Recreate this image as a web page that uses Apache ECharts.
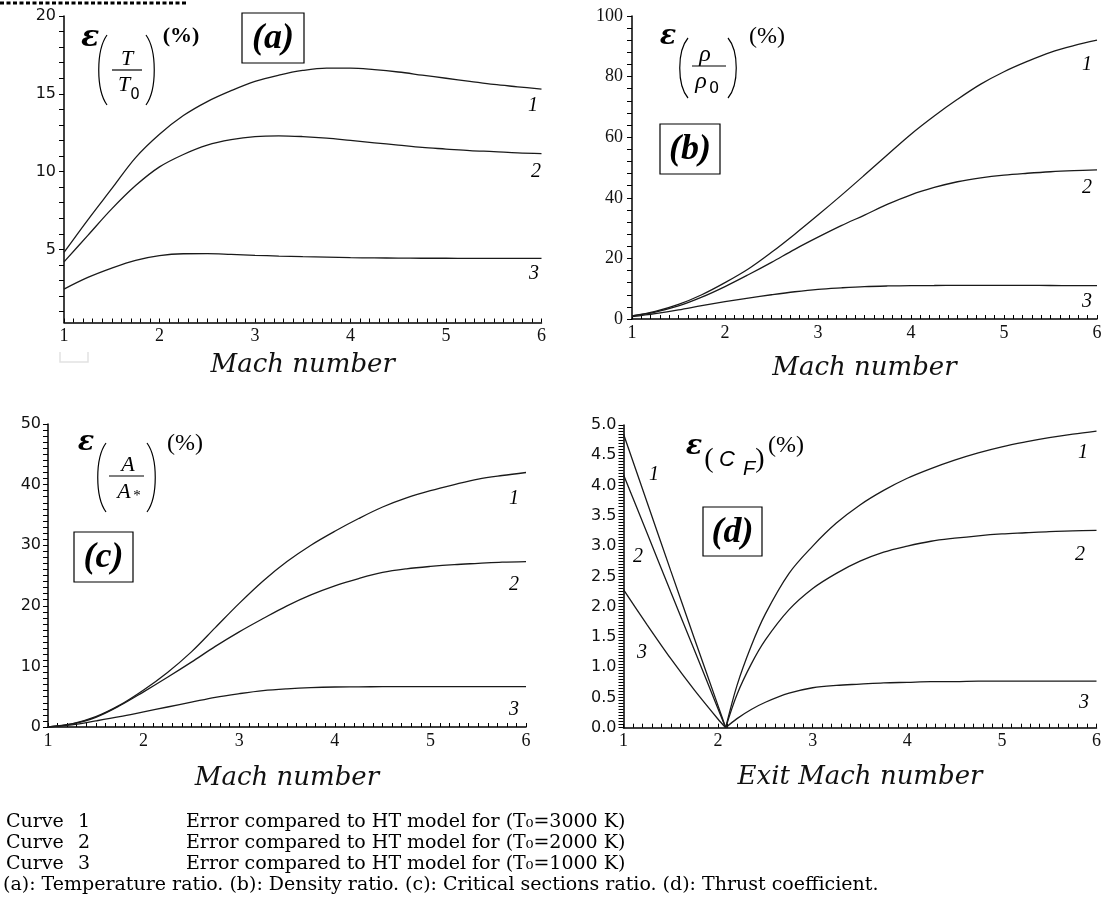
<!DOCTYPE html>
<html><head><meta charset="utf-8">
<script src="https://cdn.jsdelivr.net/npm/echarts@6/dist/echarts.min.js"></script>
<style>html,body{margin:0;padding:0;background:#fff}#chart{width:1107px;height:921px}</style>
</head><body><div id="chart"></div>
<script>
// ---------------- DATA ----------------
const mach = [1,1.25,1.5,1.75,2,2.25,2.5,2.75,3,3.25,3.5,3.75,4,4.25,4.5,4.75,5,5.25,5.5,5.75,6];
// (a) temperature ratio error (%)
const tempCurve1 = [4.8,6.9,8.9,10.9,12.4,13.6,14.5,15.2,15.8,16.2,16.5,16.65,16.65,16.55,16.4,16.2,16.0,15.8,15.6,15.45,15.3];
const tempCurve2 = [4.2,5.9,7.6,9.1,10.3,11.1,11.7,12.05,12.25,12.3,12.25,12.15,12.0,11.85,11.7,11.55,11.45,11.35,11.28,11.2,11.15];
const tempCurve3 = [2.45,3.2,3.8,4.3,4.6,4.72,4.73,4.68,4.62,4.57,4.53,4.5,4.47,4.45,4.44,4.43,4.43,4.42,4.42,4.42,4.42];
// (b) density ratio error (%)
const densCurve1 = [1.0,2.5,4.8,8.0,12.0,16.5,22.0,28.0,34.3,40.8,47.5,54.3,61.0,67.0,72.5,77.5,81.6,85.0,88.0,90.2,92.0];
const densCurve2 = [1.0,2.3,4.3,7.2,10.7,14.6,18.7,23.0,27.0,30.8,34.3,37.9,41.0,43.4,45.3,46.6,47.5,48.1,48.6,48.95,49.2];
const densCurve3 = [0.8,1.8,3.0,4.4,5.7,6.9,8.0,9.0,9.8,10.3,10.7,10.9,11.0,11.05,11.1,11.1,11.1,11.1,11.05,11.0,11.0];
// (c) critical sections ratio error (%)
const areaCurve1 = [0,0.5,1.7,3.6,6.1,9.0,12.4,16.4,20.4,24.1,27.3,30.0,32.3,34.4,36.3,37.8,39.0,40.0,40.9,41.5,42.0];
const areaCurve2 = [0,0.5,1.6,3.5,5.8,8.2,10.7,13.3,15.7,17.9,20.0,21.8,23.3,24.5,25.5,26.1,26.5,26.8,27.0,27.2,27.3];
const areaCurve3 = [0,0.35,1.0,1.7,2.5,3.3,4.1,4.9,5.5,6.0,6.3,6.5,6.6,6.62,6.65,6.65,6.65,6.65,6.65,6.65,6.65];
// (d) thrust coefficient error (%), two branches meeting at the zero point
const exitMachLeft  = [1,1.25,1.5,1.75,2,2.08];
const exitMachRight = [2.08,2.2,2.35,2.5,2.75,3,3.25,3.5,3.75,4,4.25,4.5,4.75,5,5.25,5.5,5.75,6];
const thrustCurve1Left  = [4.85,3.72,2.59,1.47,0.36,0];
const thrustCurve2Left  = [4.18,3.21,2.24,1.28,0.31,0];
const thrustCurve3Left  = [2.28,1.7,1.14,0.62,0.14,0];
const thrustCurve1Right = [0,0.7,1.35,1.88,2.55,3.0,3.38,3.68,3.92,4.12,4.28,4.42,4.54,4.64,4.72,4.79,4.85,4.9];
const thrustCurve2Right = [0,0.55,1.05,1.45,1.95,2.3,2.55,2.75,2.9,3.0,3.08,3.13,3.17,3.2,3.22,3.24,3.25,3.26];
const thrustCurve3Right = [0,0.15,0.3,0.42,0.57,0.66,0.7,0.72,0.74,0.75,0.76,0.76,0.77,0.77,0.77,0.77,0.77,0.77];
// tick labels
const xLabels = [1,2,3,4,5,6];
const yLabelsA = [5,10,15,20];
const yLabelsB = [0,20,40,60,80,100];
const yLabelsC = [0,10,20,30,40,50];
const yLabelsD = [0,0.5,1,1.5,2,2.5,3,3.5,4,4.5,5];
const curveNames = ['1','2','3'];
const footRows = [
  ['Curve','1','Error compared to HT model for (T\u2080=3000 K)'],
  ['Curve','2','Error compared to HT model for (T\u2080=2000 K)'],
  ['Curve','3','Error compared to HT model for (T\u2080=1000 K)']
];
const footCaption = '(a): Temperature ratio. (b): Density ratio. (c): Critical sections ratio. (d): Thrust coefficient.';

// ---------------- BUILD ----------------
function steps(a, b, n){ const r=[]; for(let i=0;i<=n;i++) r.push(+(a+(b-a)*i/n).toFixed(4)); return r; }
const xMinorTicks = steps(1,6,50);
const yTicksA = steps(1,20,19);
const yTicksB = steps(0,100,25);
const yTicksC = steps(0,50,50);
const yTicksD = steps(0,5,100);

const serif = '"Liberation Serif","Times New Roman",serif';
const sans = '"DejaVu Sans","Liberation Sans",sans-serif';
const dserif = '"DejaVu Serif",serif';
const ink = '#111';

function pts(xs, ys){ return xs.map((x,i)=>[x, ys[i]]); }
function lineSeries(idx, xs, ys, sm){
  return {type:'line', xAxisIndex:idx, yAxisIndex:idx, data:pts(xs,ys), showSymbol:false, symbol:'none',
    smooth: sm===undefined ? 0.35 : sm, lineStyle:{color:'#1a1a1a', width:1.3}, silent:true, animation:false};
}
function xAx(idx, name, gap){
  return {type:'value', gridIndex:idx, min:1, max:6, interval:1,
    name, nameLocation:'middle', nameGap:gap,
    nameTextStyle:{fontFamily:dserif, fontStyle:'italic', fontSize:26, color:ink},
    axisLine:{show:true, onZero:false, lineStyle:{color:'#000', width:1.5}},
    axisTick:{show:true, inside:true, length:4, customValues:xMinorTicks, lineStyle:{color:'#000', width:1}},
    axisLabel:{show:true, customValues:xLabels, margin:5, fontFamily:serif, fontSize:18, color:ink},
    splitLine:{show:false}};
}
function yAx(idx, min, max, ticks, labels, font, size, margin, fmt){
  return {type:'value', gridIndex:idx, min, max,
    axisLine:{show:true, onZero:false, lineStyle:{color:'#000', width:1.5}},
    axisTick:{show:true, inside:false, length:5, customValues:ticks, lineStyle:{color:'#000', width:1}},
    axisLabel:{show:true, customValues:labels, margin, fontFamily:font, fontSize:size, color:ink,
      formatter: fmt || (v=>String(v))},
    splitLine:{show:false}};
}

const G = [];
function txt(x,y,text,font,align){ G.push({type:'text', x, y, silent:true, style:{text, font, fill:'#000', align:align||'center', verticalAlign:'middle'}}); }
function paren(x,top,bot,dir){
  const b = 11*dir;
  G.push({type:'bezierCurve', silent:true, shape:{x1:x,y1:top,x2:x,y2:bot,cpx1:x+b,cpy1:top+(bot-top)*0.22,cpx2:x+b,cpy2:top+(bot-top)*0.78},
    style:{stroke:'#000', lineWidth:1.2, fill:null}});
}
function hline(x1,x2,y){ G.push({type:'line', silent:true, shape:{x1,y1:y,x2,y2:y}, style:{stroke:'#000', lineWidth:1.2}}); }
function box(x,y,w,h,label){
  G.push({type:'rect', silent:true, shape:{x,y,width:w,height:h}, style:{stroke:'#000', lineWidth:1.2, fill:'#fff'}});
  txt(x+w/2, y+h/2+1, label, `italic bold 36px ${serif}`);
}

// top dotted rule and faint mark
G.push({type:'line', silent:true, shape:{x1:0,y1:3,x2:186,y2:3}, style:{stroke:'#000', lineWidth:3, lineDash:[4,2.5]}});
G.push({type:'polyline', silent:true, shape:{points:[[60,352],[60,362],[88,362],[88,352]]}, style:{stroke:'#e2e2e2', lineWidth:1.5, fill:null}});

// (a) epsilon(T/T0)(%)
txt(90, 38, '\u03B5', `italic bold 30px ${dserif}`);
paren(107, 35, 105, -1); paren(146, 35, 105, 1);
txt(127, 59, 'T', `italic 22px ${serif}`);
hline(112, 142, 70);
txt(124, 85, 'T', `italic 22px ${serif}`);
txt(135, 95, '0', `15px ${sans}`);
txt(181, 36, '(%)', `bold 22px ${serif}`);
box(242, 13, 62, 50, '(a)');

// (b) epsilon(rho/rho0)(%)
txt(668, 37, '\u03B5', `italic bold 27px ${dserif}`);
paren(688, 38, 98, -1); paren(728, 38, 98, 1);
txt(705, 55, '\u03C1', `italic 24px ${serif}`);
hline(692, 726, 66);
txt(701, 82, '\u03C1', `italic 24px ${serif}`);
txt(714, 89, '0', `16px ${sans}`);
txt(767, 37, '(%)', `24px ${serif}`);
box(660, 124, 60, 50, '(b)');

// (c) epsilon(A/A*)(%)
txt(86, 443, '\u03B5', `italic bold 27px ${dserif}`);
paren(106, 443, 512, -1); paren(147, 443, 512, 1);
txt(128, 465, 'A', `italic 22px ${serif}`);
hline(109, 144, 476);
txt(124, 492, 'A', `italic 22px ${serif}`);
txt(137, 496, '*', `15px ${serif}`);
txt(185, 444, '(%)', `24px ${serif}`);
box(74, 532, 59, 50, '(c)');

// (d) epsilon(C_F)(%)
txt(694, 447, '\u03B5', `italic bold 27px ${dserif}`);
txt(709, 460, '(', `28px ${serif}`);
txt(727, 460, 'C', `italic 22px "Liberation Sans",sans-serif`);
txt(749, 469, 'F', `italic 20px "Liberation Sans",sans-serif`);
txt(760, 460, ')', `28px ${serif}`);
txt(786, 446, '(%)', `24px ${serif}`);
box(703, 507, 59, 49, '(d)');

// curve number labels
const cf = `italic 20px ${serif}`;
[[533,106],[536,172],[534,274]].forEach((p,i)=>txt(p[0],p[1],curveNames[i],cf));
[[1087,65],[1087,188],[1087,302]].forEach((p,i)=>txt(p[0],p[1],curveNames[i],cf));
[[514,499],[514,585],[514,710]].forEach((p,i)=>txt(p[0],p[1],curveNames[i],cf));
[[1083,453],[1080,555],[1084,703]].forEach((p,i)=>txt(p[0],p[1],curveNames[i],cf));
[[654,475],[638,557],[642,653]].forEach((p,i)=>txt(p[0],p[1],curveNames[i],cf));

// footnotes
const ff = `19px ${dserif}`;
const rowY = [822, 843, 864];
footRows.forEach((r,i)=>{ txt(6,rowY[i],r[0],ff,'left'); txt(78,rowY[i],r[1],ff,'left'); txt(186,rowY[i],r[2],ff,'left'); });
txt(3, 885, footCaption, ff, 'left');

const option = {
  animation:false,
  backgroundColor:'#fff',
  grid:[
    {left:64, top:16, width:477.5, height:306.5},
    {left:632, top:16, width:465, height:303},
    {left:48, top:424, width:478, height:303},
    {left:623.5, top:425, width:473, height:302.7}
  ],
  xAxis:[
    xAx(0,'Mach number',30), xAx(1,'Mach number',36), xAx(2,'Mach number',38), xAx(3,'Exit Mach number',37)
  ],
  yAxis:[
    yAx(0, 0.3, 20, yTicksA, yLabelsA, sans, 16, 8),
    yAx(1, 0, 100, yTicksB, yLabelsB, serif, 18, 9),
    yAx(2, 0, 50, yTicksC, yLabelsC, sans, 16, 7),
    yAx(3, 0, 5, yTicksD, yLabelsD, sans, 16, 7, v=>Number(v).toFixed(1))
  ],
  series:[
    lineSeries(0, mach, tempCurve1), lineSeries(0, mach, tempCurve2), lineSeries(0, mach, tempCurve3),
    lineSeries(1, mach, densCurve1), lineSeries(1, mach, densCurve2), lineSeries(1, mach, densCurve3),
    lineSeries(2, mach, areaCurve1), lineSeries(2, mach, areaCurve2), lineSeries(2, mach, areaCurve3),
    lineSeries(3, exitMachLeft, thrustCurve1Left, 0.2), lineSeries(3, exitMachLeft, thrustCurve2Left, 0.2), lineSeries(3, exitMachLeft, thrustCurve3Left, 0.2),
    lineSeries(3, exitMachRight, thrustCurve1Right), lineSeries(3, exitMachRight, thrustCurve2Right), lineSeries(3, exitMachRight, thrustCurve3Right)
  ],
  graphic: G
};
const chart = echarts.init(document.getElementById('chart'), null, {renderer:'canvas'});
chart.setOption(option);
</script>
</body></html>
